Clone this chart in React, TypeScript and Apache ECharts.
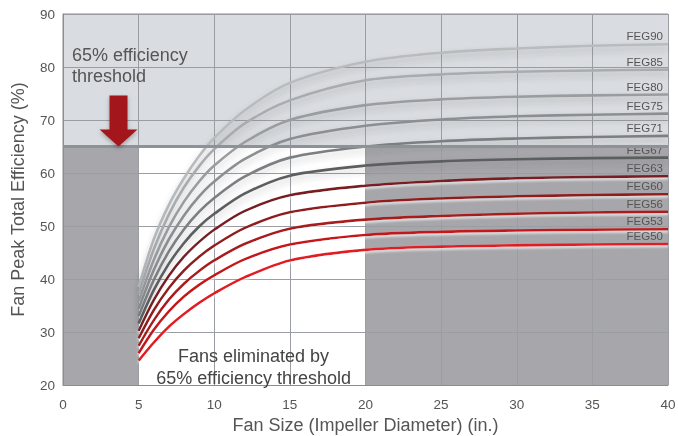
import React, { useEffect, useRef } from "react";
import * as echarts from "echarts";

const xValues = [5, 6, 7, 8, 9, 10, 12, 15, 20, 25, 30, 35, 40];
const seriesNames = ["FEG90", "FEG85", "FEG80", "FEG75", "FEG71", "FEG67", "FEG63", "FEG60", "FEG56", "FEG53", "FEG50"];
const feg90 = [38.5, 47.5, 54.0, 59.0, 63.2, 66.6, 71.8, 77.0, 81.0, 82.7, 83.5, 84.0, 84.3];
const feg85 = [37.2, 45.6, 52.2, 57.3, 61.3, 64.5, 69.3, 73.7, 77.5, 78.6, 79.1, 79.35, 79.5];
const feg80 = [35.8, 43.6, 49.8, 54.6, 58.4, 61.4, 65.8, 70.0, 72.8, 73.9, 74.4, 74.65, 74.8];
const feg75 = [34.4, 41.7, 47.5, 52.0, 55.6, 58.4, 62.6, 66.4, 68.9, 70.1, 70.7, 71.0, 71.2];
const feg71 = [33.0, 39.8, 45.2, 49.4, 52.7, 55.3, 59.3, 62.9, 65.0, 66.0, 66.5, 66.8, 67.0];
const feg67 = [31.6, 37.9, 42.9, 46.8, 49.9, 52.3, 56.1, 59.5, 61.4, 62.2, 62.6, 62.8, 62.9];
const feg63 = [30.2, 36.0, 40.6, 44.2, 47.0, 49.3, 52.8, 55.8, 57.6, 58.5, 59.0, 59.25, 59.4];
const feg60 = [28.8, 34.1, 38.3, 41.6, 44.2, 46.3, 49.6, 52.6, 54.4, 55.2, 55.6, 55.85, 56.0];
const feg56 = [27.4, 32.2, 36.1, 39.1, 41.5, 43.5, 46.6, 49.5, 51.2, 51.9, 52.3, 52.55, 52.7];
const feg53 = [26.0, 30.4, 33.9, 36.7, 38.9, 40.7, 43.7, 46.5, 48.3, 48.9, 49.15, 49.3, 49.4];
const feg50 = [24.6, 28.0, 31.0, 33.4, 35.5, 37.3, 40.3, 43.5, 45.5, 46.1, 46.35, 46.5, 46.6];
const seriesValues = [feg90, feg85, feg80, feg75, feg71, feg67, feg63, feg60, feg56, feg53, feg50];
const lineColors = ["#b9bcbf", "#a9acaf", "#9a9da0", "#8c8f92", "#7c7f82", "#5c5e60", "#7a1d20", "#921b1e", "#aa1a1d", "#c6191c", "#e21c20"];

const xTicks = { min: 0, max: 40, interval: 5 };
const yTicks = { min: 20, max: 90, interval: 10 };
const threshold = 65;
const whiteZone = [5, 20];

const FONT = "Liberation Sans, Arial, sans-serif";

export default function App() {
  const ref = useRef<HTMLDivElement>(null);
  useEffect(() => {
    if (!ref.current) return;
    const chart = echarts.init(ref.current, null, { renderer: "svg" });
    const lineSeries = seriesNames.map((name, i) => ({
      name,
      type: "line",
      smooth: 0.3,
      symbol: "none",
      z: 3,
      data: xValues.map((x, j) => [x, seriesValues[i][j]]),
      lineStyle: {
        color: lineColors[i],
        width: 2.6,
        shadowColor: i < 6 ? "rgba(60,60,60,0.25)" : "rgba(255,255,255,0.7)",
        shadowBlur: i < 6 ? 6 : 2,
        shadowOffsetY: i < 6 ? 4 : 2,
      },
      endLabel: {
        show: true,
        formatter: name,
        color: "#555",
        fontSize: 11.5,
        fontFamily: FONT,
        align: "right",
        verticalAlign: "bottom",
        offset: [-13, -2],
      },
    }));
    const option: any = {
      animation: false,
      grid: {
        left: 63, right: 10, top: 14, bottom: 51, show: true,
        borderColor: "#8a8d90", borderWidth: 1, containLabel: false, outerBoundsMode: "none",
      },
      xAxis: {
        type: "value",
        min: xTicks.min,
        max: xTicks.max,
        interval: xTicks.interval,
        name: "Fan Size (Impeller Diameter) (in.)",
        nameLocation: "middle",
        nameGap: 28,
        nameTextStyle: { color: "#555", fontSize: 18, fontFamily: FONT },
        axisLine: { show: true, lineStyle: { color: "#8a8d90" } },
        axisTick: { show: false },
        axisLabel: { color: "#555", fontSize: 13.5, fontFamily: FONT, margin: 12 },
        splitLine: { show: true, lineStyle: { color: "#9a9ea3", width: 1 } },
        z: 2,
      },
      yAxis: {
        type: "value",
        min: yTicks.min,
        max: yTicks.max,
        interval: yTicks.interval,
        name: "Fan Peak Total Efficiency (%)",
        nameLocation: "middle",
        nameGap: 36,
        nameTextStyle: { color: "#555", fontSize: 18, fontFamily: FONT },
        axisLine: { show: true, lineStyle: { color: "#8a8d90" } },
        axisTick: { show: false },
        axisLabel: { color: "#555", fontSize: 13.5, fontFamily: FONT, margin: 8 },
        splitLine: { show: true, lineStyle: { color: "#9a9ea3", width: 1 } },
        z: 2,
      },
      series: [
        {
          type: "line",
          data: [],
          z: 0,
          silent: true,
          markArea: {
            silent: true,
            data: [
              [{ coord: [xTicks.min, threshold], itemStyle: { color: "#d9dce0" } }, { coord: [xTicks.max, yTicks.max] }],
              [{ coord: [xTicks.min, yTicks.min], itemStyle: { color: "#a7a7ab" } }, { coord: [whiteZone[0], threshold] }],
              [{ coord: [whiteZone[0], yTicks.min], itemStyle: { color: "#ffffff" } }, { coord: [whiteZone[1], threshold] }],
              [{ coord: [whiteZone[1], yTicks.min], itemStyle: { color: "#a7a7ab" } }, { coord: [xTicks.max, threshold] }],
            ],
          },
        },
        {
          type: "line",
          data: [],
          z: 2.5,
          silent: true,
          markLine: {
            silent: true,
            symbol: "none",
            label: { show: false },
            lineStyle: { color: "#8e9196", width: 3, type: "solid" },
            data: [{ yAxis: threshold }],
          },
        },
        ...lineSeries,
      ],
    };
    chart.setOption(option);

    const p = (x: number, y: number) => chart.convertToPixel({ gridIndex: 0 }, [x, y]) as number[];
    const tip = p(3.67, threshold);
    const top = p(3.67, 74.6);
    const headBase = tip[1] - 17;
    const cx = tip[0];
    const textA = p(0.6, 84.3);
    const textB = p(12.6, 27.6);
    chart.setOption({
      graphic: [
        {
          type: "polygon",
          z: 100,
          shape: {
            points: [
              [cx - 9, top[1]],
              [cx + 9, top[1]],
              [cx + 9, headBase],
              [cx + 19, headBase],
              [cx, tip[1]],
              [cx - 19, headBase],
              [cx - 9, headBase],
            ],
          },
          style: { fill: "#a3161b", shadowBlur: 4, shadowColor: "rgba(0,0,0,0.3)", shadowOffsetY: 2 },
        },
        {
          type: "text",
          z: 100,
          x: textA[0],
          y: textA[1],
          style: {
            text: "65% efficiency\nthreshold",
            fill: "#555",
            font: `18px ${FONT}`,
            lineHeight: 21,
            textAlign: "left",
            textVerticalAlign: "top",
          },
        },
        {
          type: "text",
          z: 100,
          x: textB[0],
          y: textB[1],
          style: {
            text: "Fans eliminated by\n65% efficiency threshold",
            fill: "#444",
            font: `18px ${FONT}`,
            lineHeight: 22,
            textAlign: "center",
            textVerticalAlign: "top",
          },
        },
      ],
    });
    return () => chart.dispose();
  }, []);
  return <div ref={ref} style={{ width: 678, height: 436, position: "fixed", left: 0, top: 0 }} />;
}
